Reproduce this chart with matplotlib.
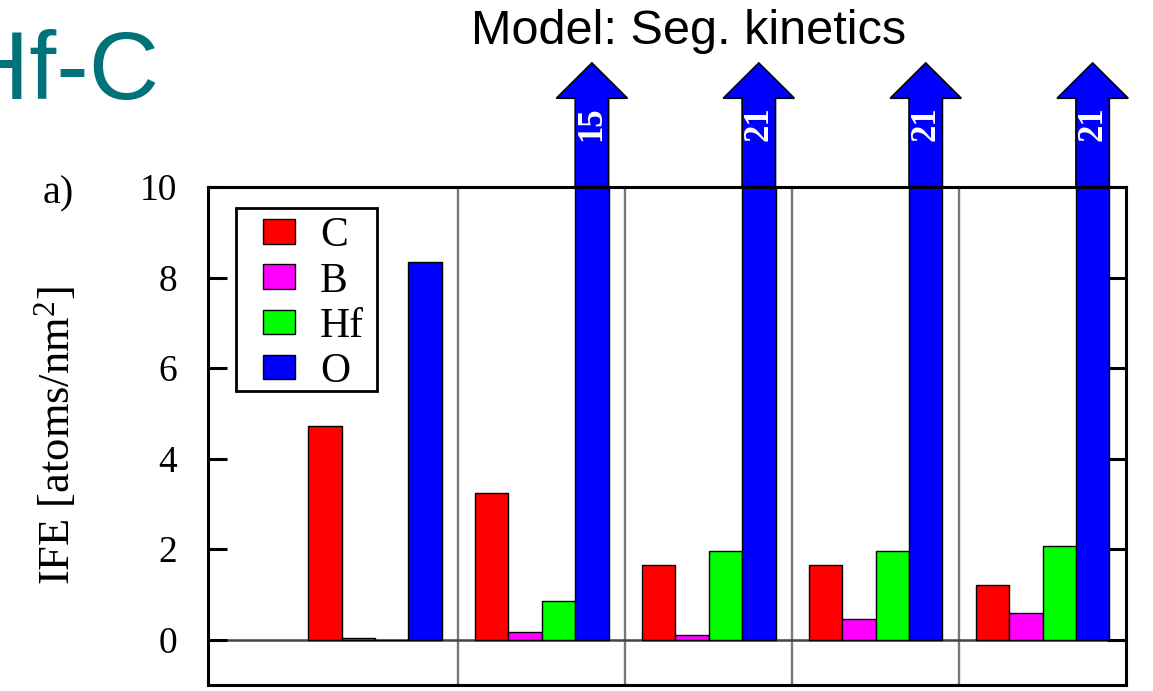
import matplotlib
matplotlib.use("Agg")
import matplotlib.pyplot as plt
from matplotlib.patches import Polygon, Rectangle
import numpy as np

# ---- data ----
elements = ["C", "B", "Hf", "O"]
colors = ["#FF0000", "#FF00FF", "#00FF00", "#0000FF"]
groups = [0, 1, 2, 3, 4]
C_vals = [4.71, 3.25, 1.64, 1.64, 1.21]
B_vals = [0.03, 0.18, 0.10, 0.46, 0.60]
Hf_vals = [0.0, 0.85, 1.97, 1.97, 2.06]
O_vals = [8.35, 15, 21, 21, 21]
y_ticks = [0, 2, 4, 6, 8, 10]

series = [C_vals, B_vals, Hf_vals, O_vals]

plt.rcParams["font.family"] = ["Liberation Serif", "DejaVu Serif"]
plt.rcParams["mathtext.fontset"] = "custom"
plt.rcParams["mathtext.rm"] = "Liberation Serif"
plt.rcParams["mathtext.it"] = "Liberation Serif:italic"

fig = plt.figure(figsize=(11.53, 6.91), dpi=100)
ax = fig.add_axes([0.1804, 0.0087, 0.7962, 0.7207])

ax.set_xlim(-1.0, 4.5)
ax.set_ylim(-1.0, 10.0)
ytop = ax.get_ylim()[1]

width = 0.2
x = np.array(groups, dtype=float)
offsets = [-0.3, -0.1, 0.1, 0.3]

# group separators and zero line
for b in x[:-1] + 0.5:
    ax.axvline(b, color="#777777", lw=1.7, zorder=1)
ax.axhline(0, color="#444444", lw=1.8, zorder=1.5)

handles = []
for vals, col, lab, off in zip(series, colors, elements, offsets):
    h = ax.bar(x + off, vals, width=width, color=col, edgecolor="black",
               linewidth=1.0, label=lab, zorder=2)
    handles.append(h)

# arrows for values beyond the axis range
head_base = ytop + 1.96
tip = ytop + 2.74
head_half = 0.213
for xi, v in zip(x + offsets[3], O_vals):
    if v > ytop:
        hw = width / 2
        pts = [(xi - hw, ytop), (xi - hw, head_base), (xi - head_half, head_base),
               (xi, tip), (xi + head_half, head_base), (xi + hw, head_base),
               (xi + hw, ytop)]
        poly = Polygon(pts, closed=False, facecolor=colors[3], edgecolor="black",
                       linewidth=1.2, clip_on=False, zorder=2.2)
        ax.add_patch(poly)
        ax.text(xi, ytop + 1.39, f"{v:g}", rotation=90, ha="center", va="center",
                color="white", fontsize=25, fontweight="bold", clip_on=False,
                zorder=3)

# axes styling
for s in ax.spines.values():
    s.set_linewidth(2.2)
    s.set_zorder(2.5)
ax.set_yticks(y_ticks)
ax.set_yticklabels([str(t) for t in y_ticks])
ax.set_xticks([])
ax.tick_params(axis="y", direction="in", length=14, width=2.2, labelsize=27,
               pad=22, right=True, left=True)
ax.set_ylabel("IFE [atoms/nm$^{2}$]", fontsize=32)
ax.yaxis.set_label_coords(-0.1416, 0.5)

# legend box and entries
ax.add_patch(Rectangle((0.0305, 0.5904), 0.1536, 0.3674, transform=ax.transAxes,
                       facecolor="white", edgecolor="black", linewidth=2.0,
                       zorder=4))
leg = ax.legend(handles=handles, loc="upper left", bbox_to_anchor=(0.0599, 0.940),
                borderaxespad=0, borderpad=0, fontsize=30, frameon=False,
                handlelength=0.77, handleheight=0.53, handletextpad=0.6,
                labelspacing=0.16)
leg.set_zorder(5)

fig.text(0.037, 0.706, "a)", fontsize=29, ha="left", va="baseline")
fig.text(0.597, 0.936, "Model: Seg. kinetics", fontsize=35, ha="center",
         va="baseline", family=["Liberation Sans", "DejaVu Sans"])
fig.text(0.138, 0.857, "Hf-C", fontsize=70, ha="right", va="baseline",
         color="#00727A", family=["Liberation Sans", "DejaVu Sans"])

fig.savefig("out.png", dpi=100)
